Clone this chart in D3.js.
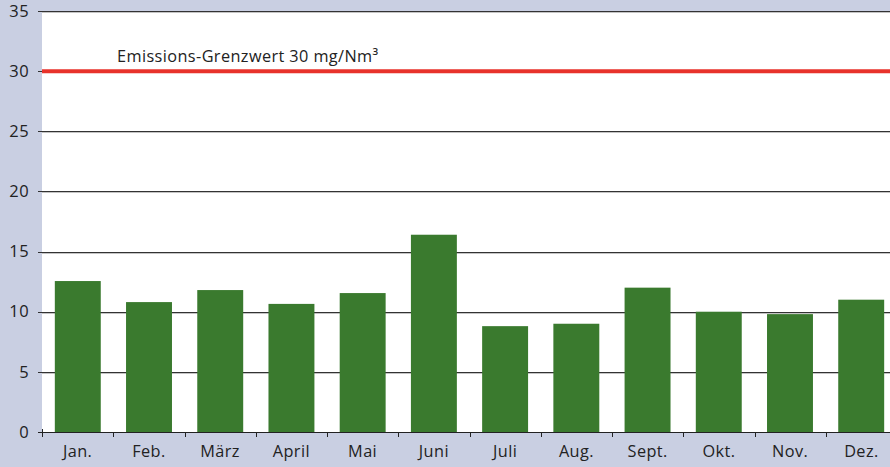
<!DOCTYPE html>
<html>
<head>
<meta charset="utf-8">
<script src="https://cdn.jsdelivr.net/npm/d3@7"></script>
<style>
  body { margin: 0; background: #c9cfe2; overflow: hidden; }
  svg { display: block; font-family: "Open Sans", "Noto Sans", sans-serif; letter-spacing: 0.4px; }
</style>
</head>
<body>
<svg id="chart"></svg>
<script>
// monthly values in mg/Nm³
const months = ['Jan.', 'Feb.', 'März', 'April', 'Mai', 'Juni', 'Juli', 'Aug.', 'Sept.', 'Okt.', 'Nov.', 'Dez.'];
const values = [12.55, 10.8, 11.8, 10.65, 11.55, 16.4, 8.8, 9.0, 12.0, 10.0, 9.8, 11.0];
const yTicks = [0, 5, 10, 15, 20, 25, 30, 35];
const limitValue = 30;
const limitLabel = 'Emissions-Grenzwert 30 mg/Nm³';

var W = 890, H = 467;
var margin = { top: 11, right: 0, bottom: 35, left: 42 };
var width = W - margin.left - margin.right;
var height = H - margin.top - margin.bottom;
// the month bands run a bit past the right edge (chart is cut off there)
var bandsWidth = 855;

var svg = d3.select('#chart').attr('width', W).attr('height', H);

var chart = svg.append('g')
    .attr('transform', 'translate(' + margin.left + ',' + margin.top + ')');

var xb = d3.scaleBand().domain(months).range([0, bandsWidth]);
var x = d3.scaleBand().domain(months).range([0, bandsWidth]).paddingInner(0.355).paddingOuter(0.18);
var y = d3.scaleLinear().domain([0, 35]).range([height, 0]);

// plot background
chart.append('rect')
    .attr('x', 0).attr('y', 0)
    .attr('width', width).attr('height', height)
    .attr('fill', '#fff');

// gridlines (dark line with a light shade under it)
var grid = chart.append('g');
grid.selectAll('.g2')
    .data(yTicks.filter(d => d > 0))
    .enter().append('line')
    .attr('x1', 0).attr('x2', width)
    .attr('y1', d => Math.round(y(d)) + 1.5)
    .attr('y2', d => Math.round(y(d)) + 1.5)
    .attr('stroke', '#c4c4c4');
grid.selectAll('.g1')
    .data(yTicks.filter(d => d > 0))
    .enter().append('line')
    .attr('x1', -4).attr('x2', width)
    .attr('y1', d => Math.round(y(d)) + 0.5)
    .attr('y2', d => Math.round(y(d)) + 0.5)
    .attr('stroke', '#333');

// bars
chart.selectAll('.bar')
    .data(values)
    .enter().append('rect')
    .attr('class', 'bar')
    .attr('x', (d, i) => x(months[i]))
    .attr('y', d => y(d))
    .attr('width', x.bandwidth())
    .attr('height', d => height - y(d))
    .attr('fill', '#3a7a2e');

// limit line
chart.append('line')
    .attr('x1', 0).attr('x2', width)
    .attr('y1', y(limitValue)).attr('y2', y(limitValue))
    .attr('stroke', '#e8322b')
    .attr('stroke-width', 4);

chart.append('text')
    .attr('x', 75)
    .attr('y', y(limitValue) - 9)
    .attr('font-size', 16.3)
    .attr('fill', '#222')
    .text(limitLabel);

// y axis labels
chart.selectAll('.ylab')
    .data(yTicks)
    .enter().append('text')
    .attr('x', -13)
    .attr('y', d => y(d))
    .attr('dy', '0.35em')
    .attr('text-anchor', 'end')
    .attr('font-size', 16.5)
    .attr('fill', '#222')
    .text(d => d);

// x axis line
chart.append('line')
    .attr('x1', -4).attr('x2', width)
    .attr('y1', height + 0.5).attr('y2', height + 0.5)
    .attr('stroke', '#222');

// x ticks at band edges
chart.selectAll('.xtick')
    .data(months)
    .enter().append('line')
    .attr('x1', d => Math.round(xb(d)) + 0.5)
    .attr('x2', d => Math.round(xb(d)) + 0.5)
    .attr('y1', (d, i) => i === 0 ? height - 3 : height)
    .attr('y2', height + 5)
    .attr('stroke', '#222');

chart.selectAll('.xlab')
    .data(months)
    .enter().append('text')
    .attr('x', d => xb(d) + xb.bandwidth() / 2)
    .attr('y', height + 25)
    .attr('text-anchor', 'middle')
    .attr('font-size', 16.3)
    .attr('fill', '#222')
    .text(d => d);
</script>
</body>
</html>
